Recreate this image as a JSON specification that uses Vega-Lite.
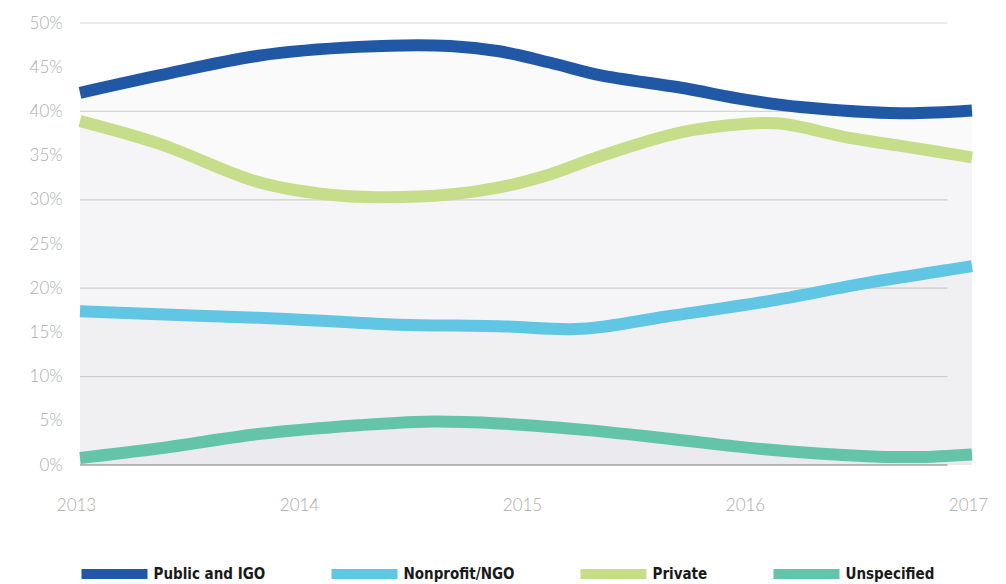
{
  "$schema": "https://vega.github.io/schema/vega-lite/v6.json",
  "width": 892,
  "height": 442,
  "autosize": "none",
  "padding": {"left": 80, "top": 23, "right": 34, "bottom": 119},
  "background": "white",
  "config": {
    "view": {"stroke": null},
    "font": "Lato"
  },
  "datasets": {
    "grid": [
      {"g": 0}, {"g": 10}, {"g": 20}, {"g": 30}, {"g": 40}, {"g": 50}
    ],
    "series": [
      {"s": "Public and IGO", "t": 2013.00, "v": 42.1},
      {"s": "Public and IGO", "t": 2013.36, "v": 44.1},
      {"s": "Public and IGO", "t": 2013.80, "v": 46.3},
      {"s": "Public and IGO", "t": 2014.25, "v": 47.3},
      {"s": "Public and IGO", "t": 2014.66, "v": 47.4},
      {"s": "Public and IGO", "t": 2014.88, "v": 46.8},
      {"s": "Public and IGO", "t": 2015.11, "v": 45.5},
      {"s": "Public and IGO", "t": 2015.33, "v": 44.1},
      {"s": "Public and IGO", "t": 2015.69, "v": 42.7},
      {"s": "Public and IGO", "t": 2015.99, "v": 41.3},
      {"s": "Public and IGO", "t": 2016.23, "v": 40.5},
      {"s": "Public and IGO", "t": 2016.68, "v": 39.8},
      {"s": "Public and IGO", "t": 2017.00, "v": 40.1},

      {"s": "Nonprofit/NGO", "t": 2013.00, "v": 17.4},
      {"s": "Nonprofit/NGO", "t": 2013.50, "v": 16.9},
      {"s": "Nonprofit/NGO", "t": 2013.95, "v": 16.5},
      {"s": "Nonprofit/NGO", "t": 2014.40, "v": 15.9},
      {"s": "Nonprofit/NGO", "t": 2014.88, "v": 15.7},
      {"s": "Nonprofit/NGO", "t": 2015.25, "v": 15.4},
      {"s": "Nonprofit/NGO", "t": 2015.63, "v": 16.8},
      {"s": "Nonprofit/NGO", "t": 2016.08, "v": 18.5},
      {"s": "Nonprofit/NGO", "t": 2016.53, "v": 20.6},
      {"s": "Nonprofit/NGO", "t": 2016.95, "v": 22.3},
      {"s": "Nonprofit/NGO", "t": 2017.00, "v": 22.5},

      {"s": "Private", "t": 2013.00, "v": 38.9},
      {"s": "Private", "t": 2013.36, "v": 36.3},
      {"s": "Private", "t": 2013.80, "v": 32.0},
      {"s": "Private", "t": 2014.11, "v": 30.6},
      {"s": "Private", "t": 2014.33, "v": 30.3},
      {"s": "Private", "t": 2014.66, "v": 30.6},
      {"s": "Private", "t": 2014.88, "v": 31.4},
      {"s": "Private", "t": 2015.11, "v": 32.9},
      {"s": "Private", "t": 2015.33, "v": 34.9},
      {"s": "Private", "t": 2015.69, "v": 37.6},
      {"s": "Private", "t": 2015.99, "v": 38.6},
      {"s": "Private", "t": 2016.15, "v": 38.6},
      {"s": "Private", "t": 2016.45, "v": 37.0},
      {"s": "Private", "t": 2016.68, "v": 36.1},
      {"s": "Private", "t": 2017.00, "v": 34.8},

      {"s": "Unspecified", "t": 2013.00, "v": 0.8},
      {"s": "Unspecified", "t": 2013.36, "v": 1.9},
      {"s": "Unspecified", "t": 2013.80, "v": 3.5},
      {"s": "Unspecified", "t": 2014.25, "v": 4.5},
      {"s": "Unspecified", "t": 2014.55, "v": 4.9},
      {"s": "Unspecified", "t": 2014.88, "v": 4.7},
      {"s": "Unspecified", "t": 2015.25, "v": 4.0},
      {"s": "Unspecified", "t": 2015.63, "v": 3.0},
      {"s": "Unspecified", "t": 2016.08, "v": 1.75},
      {"s": "Unspecified", "t": 2016.53, "v": 1.0},
      {"s": "Unspecified", "t": 2016.75, "v": 0.9},
      {"s": "Unspecified", "t": 2017.00, "v": 1.2}
    ]
  },
  "encoding": {
    "y": {"type": "quantitative"},
    "x": {"type": "quantitative"}
  },
  "layer": [
    {
      "data": {"name": "grid"},
      "mark": {"type": "rule"},
      "encoding": {
        "y": {"field": "g", "type": "quantitative", "title": null, "scale": {"domain": [0, 50], "nice": false, "zero": true}},
        "x": {"datum": 2013, "type": "quantitative", "title": null, "scale": {"domain": [2013, 2017], "nice": false, "zero": false}},
        "x2": {"datum": 2016.89},
        "color": {"condition": {"test": "datum.g === 0", "value": "#a9a9a9"}, "value": "#d9d9d9"},
        "strokeWidth": {"condition": {"test": "datum.g === 0", "value": 1.6}, "value": 1.2}
      }
    },
    {
      "data": {"name": "series"},
      "mark": {"type": "area", "interpolate": "catmull-rom", "fill": "#5a6070", "opacity": 0.03},
      "encoding": {
        "x": {"field": "t", "type": "quantitative", "title": null},
        "y": {"field": "v", "type": "quantitative", "stack": null, "title": null},
        "detail": {"field": "s", "type": "nominal"}
      }
    },
    {
      "data": {"name": "series"},
      "mark": {"type": "line", "interpolate": "catmull-rom", "strokeWidth": 12, "strokeCap": "butt", "strokeJoin": "round"},
      "encoding": {
        "x": {
          "field": "t", "type": "quantitative",
          "title": null,
          "axis": {
            "values": [2013, 2014, 2015, 2016, 2017],
            "format": "d",
            "title": null,
            "grid": false, "domain": false, "ticks": false,
            "labelFlush": false,
            "labelPadding": 32,
            "labelOffset": -4,
            "labelFont": "Lato",
            "labelFontWeight": 300,
            "labelFontSize": 17,
            "labelColor": "#acacac",
            "encode": {"labels": {"update": {"dy": {"signal": "datum.value === 2016 ? 4 : 0"}}}}
          }
        },
        "y": {
          "field": "v", "type": "quantitative",
          "title": null,
          "axis": {
            "values": [0, 5, 10, 15, 20, 25, 30, 35, 40, 45, 50],
            "labelExpr": "datum.value + '%'",
            "title": null,
            "grid": false, "domain": false, "ticks": false,
            "labelPadding": 18,
            "labelFont": "Lato",
            "labelFontWeight": 300,
            "labelFontSize": 17,
            "labelColor": "#acacac"
          }
        },
        "color": {
          "field": "s", "type": "nominal",
          "scale": {
            "domain": ["Public and IGO", "Nonprofit/NGO", "Private", "Unspecified"],
            "range": ["#2158a6", "#61c5e4", "#c6de8a", "#64c4a9"]
          },
          "legend": {
            "title": null,
            "orient": "none",
            "legendX": -3.5,
            "legendY": 513,
            "direction": "horizontal",
            "columns": 4,
            "columnPadding": 46,
            "symbolType": "M-1,0H1",
            "symbolSize": 4356,
            "symbolStrokeWidth": 10,
            "labelOffset": 1,
            "labelFont": "DejaVu Sans Condensed, Roboto, sans-serif",
            "labelFontWeight": "bold",
            "labelFontSize": 15,
            "labelColor": "#1a1a1a",
            "labelLimit": 300
          }
        }
      }
    }
  ]
}
